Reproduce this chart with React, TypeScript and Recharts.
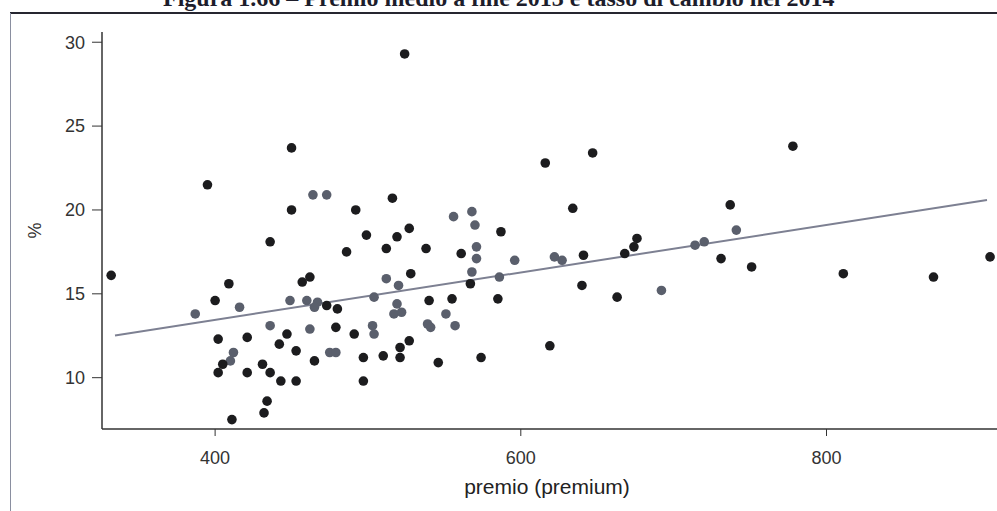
import { ScatterChart, Scatter, XAxis, YAxis, ReferenceLine } from 'recharts';

// premio medio (x) e tasso (y)
const darkPremio = [
  395, 450, 450, 492, 516, 499, 436, 486, 512, 332, 409, 457, 462, 400, 473, 480, 479, 402,
  421, 447, 491, 442, 453, 465, 497, 510, 405, 431, 402, 421, 436, 443, 453, 497, 434, 432,
  411, 527, 519, 587, 538, 561, 528, 567, 540, 555, 585, 527, 521, 521, 546, 574, 619, 634,
  641, 676, 674, 668, 640, 663, 524, 647, 616, 778, 737, 731, 751, 811, 870, 907,
];
const darkTasso = [
  21.5, 23.7, 20.0, 20.0, 20.7, 18.5, 18.1, 17.5, 17.7, 16.1, 15.6, 15.7, 16.0, 14.6, 14.3, 14.1, 13.0, 12.3,
  12.4, 12.6, 12.6, 12.0, 11.6, 11.0, 11.2, 11.3, 10.8, 10.8, 10.3, 10.3, 10.3, 9.8, 9.8, 9.8, 8.6, 7.9,
  7.5, 18.9, 18.4, 18.7, 17.7, 17.4, 16.2, 15.6, 14.6, 14.7, 14.7, 12.2, 11.8, 11.2, 10.9, 11.2, 11.9, 20.1,
  17.3, 18.3, 17.8, 17.4, 15.5, 14.8, 29.3, 23.4, 22.8, 23.8, 20.3, 17.1, 16.6, 16.2, 16.0, 17.2,
];
const grayPremio = [
  464, 473, 512, 449, 460, 467, 416, 465, 504, 387, 436, 462, 503, 504, 412, 475, 479, 410,
  556, 568, 570, 571, 571, 596, 568, 520, 586, 519, 517, 522, 551, 539, 541, 557, 622, 627,
  741, 714, 720, 692,
];
const grayTasso = [
  20.9, 20.9, 15.9, 14.6, 14.6, 14.5, 14.2, 14.2, 14.8, 13.8, 13.1, 12.9, 13.1, 12.6, 11.5, 11.5, 11.5, 11.0,
  19.6, 19.9, 19.1, 17.8, 17.1, 17.0, 16.3, 15.5, 16.0, 14.4, 13.8, 13.9, 13.8, 13.2, 13.0, 13.1, 17.2, 17.0,
  18.8, 17.9, 18.1, 15.2,
];
// retta di regressione
const fitPremio = [334.5, 905];
const fitTasso = [12.52, 20.59];

const xTicks = [400, 600, 800];
const yTicks = [10, 15, 20, 25, 30];

const TITLE = 'Figura 1.66 – Premio medio a fine 2013 e tasso di cambio nel 2014';

const toPoints = (xs: number[], ys: number[]) =>
  xs.map((premio, i) => ({ premio, tasso: ys[i] }));

const dot = (fill: string) => (p: any) =>
  <circle cx={p.cx} cy={p.cy} r={4.8} fill={fill} />;

const X_DOMAIN: [number, number] = [326, 913.5];
const tickStyle = { fontSize: 18, fill: '#333', fontFamily: 'Liberation Sans, Arial, sans-serif' };

export default function App() {
  const dark = toPoints(darkPremio, darkTasso);
  const gray = toPoints(grayPremio, grayTasso);

  return (
    <div
      style={{
        position: 'absolute',
        left: 0,
        top: 0,
        width: 997,
        height: 511,
        overflow: 'hidden',
        background: '#fff',
        fontFamily: 'Liberation Sans, Arial, sans-serif',
      }}
    >
      {/* titolo della figura, tagliato in alto come nella scansione */}
      <svg width={997} height={40} style={{ position: 'absolute', left: 0, top: 0 }}>
        <text
          x={163}
          y={6}
          fontFamily="Liberation Serif, Times New Roman, serif"
          fontWeight="bold"
          fontSize={24}
          fill="#1d1d2b"
        >
          {TITLE}
        </text>
        <line x1={10} y1={13} x2={997} y2={13} stroke="#262630" strokeWidth={2.2} />
      </svg>
      <div
        style={{
          position: 'absolute',
          left: 10,
          top: 13,
          width: 1,
          height: 498,
          background: '#8a8fa0',
        }}
      />

      <div style={{ position: 'absolute', left: 0, top: 0 }}>
        <ScatterChart width={1010} height={511} margin={{ top: 32, right: 10, bottom: 0, left: 0 }}>
          <XAxis
            xAxisId="top"
            orientation="top"
            type="number"
            dataKey="premio"
            domain={X_DOMAIN}
            allowDataOverflow
            height={0}
            tick={false}
            tickLine={false}
            axisLine={{ stroke: '#222', strokeWidth: 2 }}
          />
          <XAxis
            type="number"
            dataKey="premio"
            domain={X_DOMAIN}
            allowDataOverflow
            ticks={xTicks}
            interval={0}
            height={82}
            tick={tickStyle}
            tickSize={7}
            tickMargin={15}
            tickLine={{ stroke: '#333' }}
            axisLine={{ stroke: '#333', strokeWidth: 1.5 }}
            label={{
              value: 'premio (premium)',
              position: 'insideBottom',
              offset: 17,
              dx: -4,
              style: { fontSize: 21, fill: '#222', textAnchor: 'middle' },
            }}
          />
          <YAxis
            type="number"
            dataKey="tasso"
            domain={[6.94, 30.61]}
            allowDataOverflow
            ticks={yTicks}
            interval={0}
            width={102}
            tick={tickStyle}
            tickSize={10}
            tickMargin={7}
            tickLine={{ stroke: '#333' }}
            axisLine={{ stroke: '#333', strokeWidth: 1.5 }}
            label={{
              value: '%',
              angle: -90,
              position: 'insideLeft',
              offset: 35,
              style: { fontSize: 18, fill: '#333', textAnchor: 'middle' },
            }}
          />
          <ReferenceLine
            segment={[
              { x: fitPremio[0], y: fitTasso[0] },
              { x: fitPremio[1], y: fitTasso[1] },
            ]}
            stroke="#7d8092"
            strokeWidth={2}
          />
          <Scatter data={gray} shape={dot('#5a5f6c')} isAnimationActive={false} />
          <Scatter data={dark} shape={dot('#1c1c1e')} isAnimationActive={false} />
        </ScatterChart>
      </div>
    </div>
  );
}
